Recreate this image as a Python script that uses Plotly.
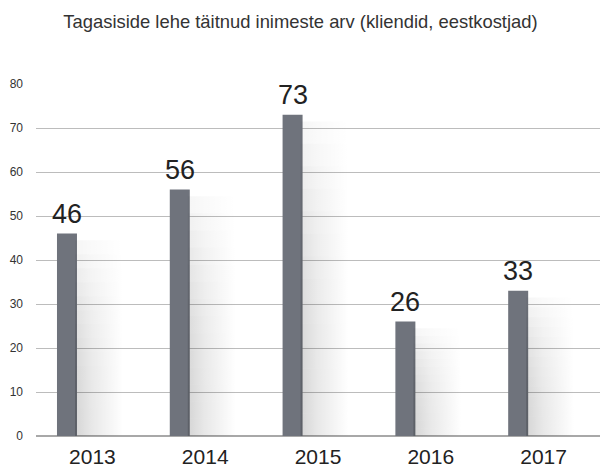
import plotly.graph_objects as go

years = ["2013", "2014", "2015", "2016", "2017"]
values = [46, 56, 73, 26, 33]
y_ticks = [0, 10, 20, 30, 40, 50, 60, 70, 80]
title = "Tagasiside lehe täitnud inimeste arv (kliendid, eestkostjad)"

FONT = "Liberation Sans, Arial"
slot_px = 112.8
bar_w = 20 / slot_px
bar_off = -0.314
xpos = list(range(len(years)))

fig = go.Figure()

# soft shadow to the right of each bar (gradient fills, fading toward the top)
sh_w = 48 / slot_px
n_layers = 14
for xi, v in zip(xpos, values):
    x0 = xi + bar_off + bar_w - 2 / slot_px
    x1 = x0 + sh_w
    top = v - 1.5
    for k in range(n_layers):
        f0 = k / n_layers
        f1 = (k + 1) / n_layers
        a = 0.15 * (1 - f0 ** 2.2) + 0.015
        y0 = -1.5 if k == 0 else top * f0
        y1 = top * f1
        fig.add_trace(go.Scatter(
            x=[x0, x1, x1, x0, x0], y=[y0, y0, y1, y1, y0],
            mode="lines", line=dict(width=0), fill="toself",
            fillgradient=dict(type="horizontal", start=x0, stop=x1,
                              colorscale=[[0, f"rgba(0,0,0,{a:.3f})"],
                                          [0.35, f"rgba(0,0,0,{a * 0.55:.3f})"],
                                          [1, "rgba(0,0,0,0)"]]),
            hoverinfo="skip", showlegend=False, cliponaxis=False,
        ))

fig.add_trace(go.Bar(
    x=xpos, y=values, width=bar_w, offset=bar_off,
    marker=dict(color="#6f737c", line=dict(width=0)),
    showlegend=False, cliponaxis=False,
))

annotations = []
for xi, v in zip(xpos, values):
    annotations.append(dict(
        x=xi + bar_off + bar_w / 2, y=v, xref="x", yref="y", text=str(v),
        showarrow=False, yanchor="bottom", xanchor="center", yshift=3,
        font=dict(family=FONT, size=27, color="#222222"),
    ))

fig.update_layout(
    width=601, height=468,
    margin=dict(l=36, r=1, t=84, b=32, autoexpand=False),
    paper_bgcolor="white", plot_bgcolor="white",
    annotations=annotations,
    title=dict(text=title, x=0.5, xref="container", xanchor="center", y=0.953, yanchor="middle",
               font=dict(family=FONT, size=18.4, color="#333333")),
    xaxis=dict(range=[-0.5, 4.5], tickvals=xpos, ticktext=years, showgrid=False,
               showline=False, zeroline=False, ticks="", automargin=False,
               tickfont=dict(family=FONT, size=21, color="#222222"),
               ticklabelstandoff=6),
    yaxis=dict(range=[0, 80], tickvals=y_ticks, showgrid=True, gridcolor="#bcbcbc",
               gridwidth=1, zeroline=True, zerolinecolor="#a8a8a8", zerolinewidth=1.5,
               ticks="", ticklabelstandoff=12, automargin=False,
               tickfont=dict(family=FONT, size=12, color="#333333")),
)

fig.write_html("out.html", config={"displayModeBar": False},
               post_script="document.body.style.margin='0';")
